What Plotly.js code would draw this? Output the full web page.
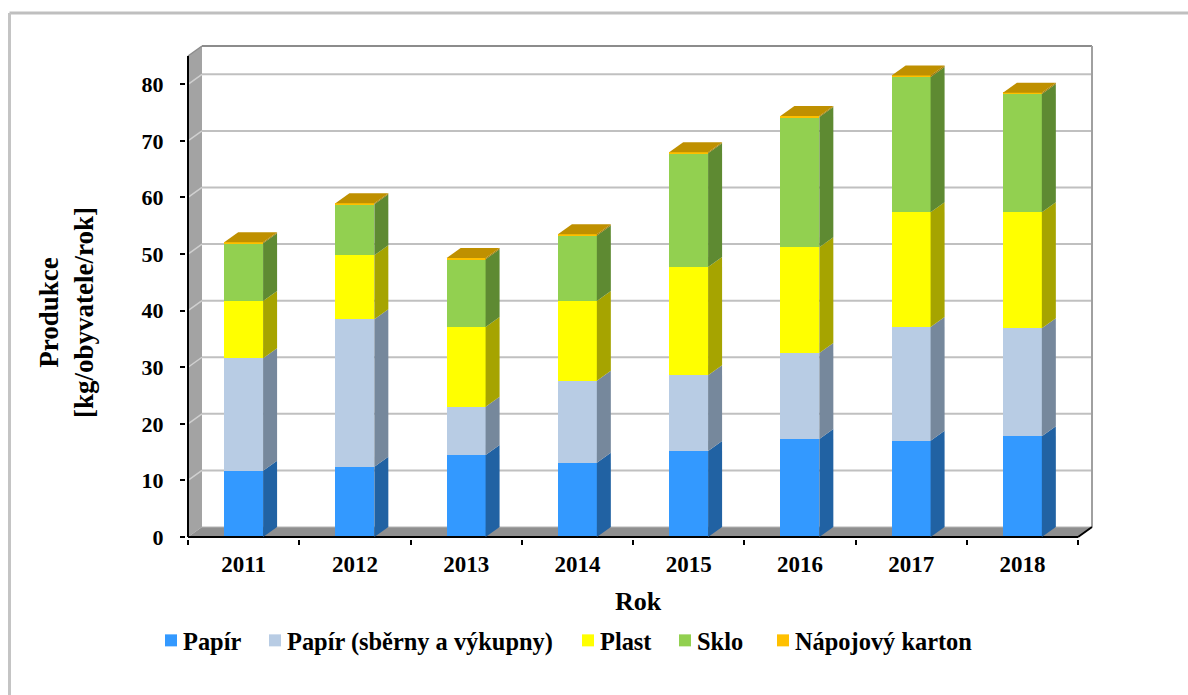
<!DOCTYPE html>
<html>
<head>
<meta charset="utf-8">
<script src="https://cdn.plot.ly/plotly-3.0.1.min.js"></script>
<style>
html,body{margin:0;padding:0;background:#fff}
.legend .legendpoints{transform:translateX(8px)}
.ytitle{translate:0 21px}
.xtitle{translate:-2px 0}
</style>
</head>
<body>
<div id="chart" style="width:1188px;height:695px"></div>
<script>
const years = ['2011','2012','2013','2014','2015','2016','2017','2018'];
const papir = [11.7,12.4,14.5,13.1,15.2,17.3,17.0,17.8];
const papirSber = [19.9,26.1,8.5,14.5,13.4,15.2,20.1,19.1];
const plast = [10.1,11.3,14.1,14.1,19.1,18.7,20.3,20.5];
const sklo = [10.2,9.0,12.0,11.6,20.1,23.0,23.9,20.9];
const karton = [0.2,0.2,0.2,0.2,0.2,0.2,0.25,0.2];
const seriesNames = ['Papír','Papír (sběrny a výkupny)','Plast','Sklo','Nápojový karton'];
const seriesValues = [papir,papirSber,plast,sklo,karton];
const frontColors = ['#3399ff','#b8cce4','#ffff00','#92d050','#ffc000'];
const sideColors = ['#2162a3','#76889c','#a6a400','#5e8a32','#a37a00'];
const legendWidths = [59,268,52,53,180];
const yTicks = [0,10,20,30,40,50,60,70,80];

const serif = '"Liberation Serif","Times New Roman",serif';
// plot-area geometry: pad keeps the edge strokes from being clipped
const pad=2;
const L0=188,R0=96,T0=46,B0=158,W=1188,H=695;
const L=L0-pad,R=R0-pad,T=T0-pad,B=B0-pad;
const pw=W-L-R, ph=H-T-B;
const yTop=85, depthPxX=14, depthPxY=10, barW=0.35;
const catPx=(W-L0-R0-depthPxX)/years.length;
const unitPx=(H-T0-B0-depthPxY)/yTop;
const dx=depthPxX/catPx;
const dy=depthPxY/unitPx;
const x0=-0.5, xMax=years.length-0.5;
const px=v=>(v-L)/pw, py=v=>(H-B-v)/ph;

function poly(pts,fill,layer){
  return {type:'path',xref:'x',yref:'y',layer:layer||'above',fillcolor:fill,line:{width:0},
    path:'M'+pts.map(p=>p[0]+','+p[1]).join('L')+'Z'};
}
function seg(ax,ay,bx,by,color,width,layer){
  return {type:'line',xref:'x',yref:'y',x0:ax,y0:ay,x1:bx,y1:by,layer:layer||'below',line:{color,width}};
}
function pseg(ax,ay,bx,by,color,width){
  return {type:'line',xref:'paper',yref:'paper',x0:px(ax),y0:py(ay),x1:px(bx),y1:py(by),layer:'below',line:{color,width}};
}

const shapes=[];
// outer frame
shapes.push(pseg(9.5,13,1188,13,'#bfbfbf',3));
shapes.push(pseg(9.5,13,9.5,695,'#c4c4c4',3));
// left wall and floor
shapes.push(poly([[x0,0],[x0+dx,dy],[x0+dx,yTop+dy],[x0,yTop]],'#a3a3a3','below'));
shapes.push(poly([[x0,0],[x0+dx,dy],[xMax+dx,dy],[xMax,0]],'#8f8f8f','below'));
// grid lines on left wall and back wall
yTicks.slice(1).forEach(t=>{
  shapes.push(seg(x0+dx,t+dy,xMax+dx,t+dy,'#c0c0c0',2));
  shapes.push(seg(x0,t,x0+dx,t+dy,'#d0d0d0',1.5));
});
// back wall outline
shapes.push(seg(x0+dx,yTop+dy,xMax+dx,yTop+dy,'#8c8c8c',2));
shapes.push(seg(xMax+dx,yTop+dy,xMax+dx,dy,'#a0a0a0',2));
shapes.push(seg(x0,yTop,x0+dx,yTop+dy,'#8c8c8c',1.5));
shapes.push(seg(x0+dx,dy,xMax+dx,dy,'#b5b5b5',1));
// front axis lines
shapes.push(seg(x0,0,xMax,0,'#000',2,'above'));
shapes.push(seg(xMax,0,xMax+dx,dy,'#000',2,'above'));
shapes.push(seg(x0,0,x0,yTop,'#000',2,'above'));

// depth faces of the stacked columns
years.forEach((yr,i)=>{
  let base=0;
  const xr=i+barW/2, xl=i-barW/2;
  seriesValues.forEach((vals,s)=>{
    const top=base+vals[i];
    shapes.push(poly([[xr,base],[xr+dx,base+dy],[xr+dx,top+dy],[xr,top]],sideColors[s]));
    base=top;
  });
  shapes.push(poly([[xl,base],[xl+dx,base+dy],[xr+dx,base+dy],[xr,base]],'#bf9000'));
});

const traces=seriesNames.map((name,s)=>({
  type:'bar',name,x:years,y:seriesValues[s],
  marker:{color:frontColors[s],line:{width:0}},
  legendwidth:legendWidths[s],hoverinfo:'x+y+name'
}));

const layout={
  width:W,height:H,
  paper_bgcolor:'#fff',plot_bgcolor:'rgba(0,0,0,0)',
  margin:{l:L,r:R,t:T,b:B,pad:0},
  barmode:'stack',bargap:1-barW,
  font:{family:serif,color:'#000',size:22},
  xaxis:{type:'category',categoryorder:'array',categoryarray:years,
    range:[x0-pad/catPx,xMax+dx+pad/catPx],
    tickson:'boundaries',ticks:'outside',ticklen:5,tickwidth:1.5,tickcolor:'#000',
    showgrid:false,zeroline:false,showline:false,ticklabelstandoff:9,
    tickfont:{family:serif,size:23,color:'#000',weight:'bold'},
    title:{text:'Rok',font:{family:serif,size:26,color:'#000',weight:'bold'},standoff:15}},
  yaxis:{range:[-pad/unitPx,yTop+dy+pad/unitPx],tickvals:yTicks,ticks:'outside',ticklen:5,tickwidth:1.5,tickcolor:'#000',
    showgrid:false,zeroline:false,showline:false,ticklabelstandoff:12,
    tickfont:{family:serif,size:22,color:'#000',weight:'bold'},
    title:{text:'Produkce<br>[kg/obyvatele/rok]',font:{family:serif,size:27,color:'#000',weight:'bold'},standoff:40}},
  legend:{orientation:'h',x:px(143),xanchor:'left',y:py(640.5),yanchor:'middle',
    traceorder:'normal',itemwidth:30,
    font:{family:serif,size:24.4,color:'#000',weight:'bold'},bgcolor:'rgba(0,0,0,0)'},
  shapes
};
Plotly.newPlot('chart',traces,layout,{displayModeBar:false,responsive:false});
</script>
</body>
</html>
